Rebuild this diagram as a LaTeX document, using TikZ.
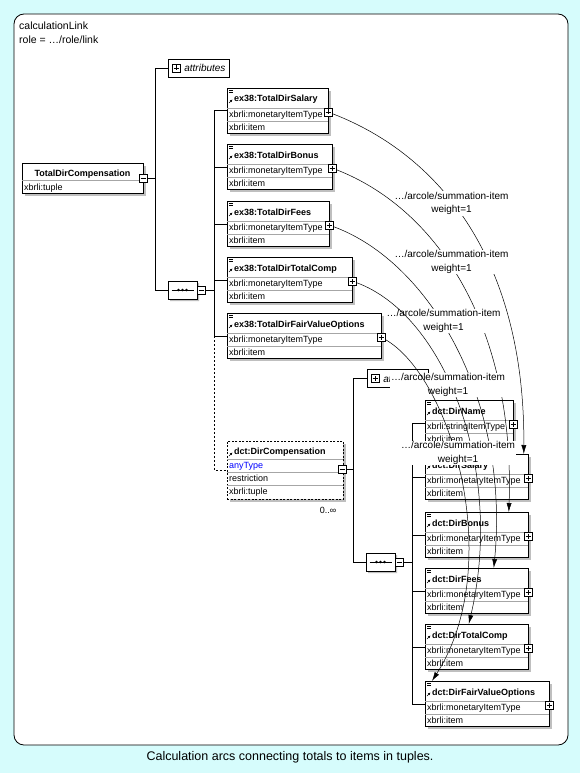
\documentclass[tikz,border=0pt]{standalone}
\usepackage{fontspec}
\setmainfont{Liberation Sans}
\usetikzlibrary{arrows.meta,shapes.misc}

\definecolor{bgcyan}{RGB}{214,252,252}

\tikzset{
  elbox/.style={draw, fill=white, line width=0.8pt, minimum height=45pt, inner sep=0pt},
  boxshadow/.style={fill=gray!50},
  rowline/.style={draw=gray!70, line width=0.5pt},
  eltitle/.style={anchor=base west, inner sep=0pt, font=\fontsize{9}{10}\selectfont\bfseries},
  eltext/.style={anchor=base west, inner sep=0pt, font=\fontsize{9}{10}\selectfont},
  plusbox/.style={draw, fill=white, line width=0.6pt, minimum size=8pt, inner sep=0pt,
    path picture={\draw[line width=0.6pt]
      ([xshift=1.5pt]path picture bounding box.west) -- ([xshift=-1.5pt]path picture bounding box.east)
      ([yshift=-1.5pt]path picture bounding box.north) -- ([yshift=1.5pt]path picture bounding box.south);}},
  minusbox/.style={draw, fill=white, line width=0.6pt, minimum size=8pt, inner sep=0pt,
    path picture={\draw[line width=0.6pt]
      ([xshift=1.5pt]path picture bounding box.west) -- ([xshift=-1.5pt]path picture bounding box.east);}},
  attrbox/.style={draw, fill=white, line width=0.8pt, minimum height=18pt, minimum width=61pt,
    inner sep=2pt, anchor=west, font=\fontsize{10}{11}\selectfont\itshape},
  seqbox/.style={chamfered rectangle, chamfered rectangle xsep=5pt, draw, fill=white,
    line width=0.8pt, minimum width=29pt, minimum height=18pt, inner sep=0pt},
  link/.style={line width=0.8pt},
  optlink/.style={line width=0.8pt, dash pattern=on 2pt off 2pt},
  calcarc/.style={line width=0.5pt, -{Latex[length=9pt,width=5pt]}},
  arclabel/.style={fill=white, align=center, inner sep=1pt, font=\fontsize{10}{13.5}\selectfont}
}

% element box: name, left, top, width, title, type, base
\newcommand{\elem}[7]{%
  \fill[boxshadow] (#2+3,#3+3) rectangle ++(#4,45);
  \node[elbox, minimum width=#4pt, anchor=north west] (#1) at (#2,#3) {};
  \draw[rowline] (#2,#3+20) -- ++(#4,0) (#2,#3+33) -- ++(#4,0);
  \draw[line width=0.4pt] (#2+2,#3+2) -- ++(4,0) (#2+2,#3+4) -- ++(4,0);
  \draw[line width=0.6pt, -{Latex[length=2.5pt,width=2.5pt]}] (#2+2,#3+15) -- ++(3.5,-3.5);
  \node[eltitle] at (#2+7,#3+14) {#5};
  \node[eltext] at (#2+2,#3+29.5) {#6};
  \node[eltext] at (#2+2,#3+42.5) {#7};
  \node[plusbox] (#1p) at (#2+#4,#3+24) {};
}

% sequence compositor: name, centre x, centre y
\newcommand{\seqnode}[3]{%
  \node[seqbox, draw=none, fill=gray!50] at (#2+2,#3+2) {};
  \node[seqbox] (#1) at (#2,#3) {};
  \draw[line width=0.6pt] (#2-11,#3) -- (#2+11,#3);
  \fill (#2-4,#3) circle (1.4pt) (#2,#3) circle (1.4pt) (#2+4,#3) circle (1.4pt);
  \node[minusbox] (#1m) at (#2+18.5,#3) {};
}

\begin{document}
\begin{tikzpicture}[x=1pt, y=-1pt]
  \useasboundingbox (0,0) rectangle (580,773);
  \fill[bgcyan] (0,0) rectangle (580,773);
  \draw[fill=white, line width=0.8pt, rounded corners=10pt] (14,14) rectangle (568,745);

  \node[anchor=base west, inner sep=0pt, font=\fontsize{10.5}{12}\selectfont] (linkname) at (19,29.5) {calculationLink};
  \node[anchor=base west, inner sep=0pt, font=\fontsize{10.5}{12}\selectfont] (linkrole) at (19,44) {role = …/role/link};

  % tuple on the left
  \fill[boxshadow] (25,166) rectangle ++(121,30);
  \node[elbox, minimum width=121pt, minimum height=30pt, anchor=north west] (tdc) at (22,163) {};
  \draw[rowline] (22,180) -- ++(121,0);
  \node[eltitle, anchor=base] at (82.5,176) {TotalDirCompensation};
  \node[eltext] at (24,190) {xbrli:tuple};
  \node[minusbox] (tdcm) at (143,178.5) {};

  \node[attrbox] (attr1) at (168,68) {\hspace{12pt}attributes};
  \node[plusbox] at ([xshift=8pt]attr1.west) {};
  \seqnode{seq1}{182.5}{290}

  \elem{tsal}{227}{88}{101}{ex38:TotalDirSalary}{xbrli:monetaryItemType}{xbrli:item}
  \elem{tbon}{227}{144}{105}{ex38:TotalDirBonus}{xbrli:monetaryItemType}{xbrli:item}
  \elem{tfee}{227}{201}{102}{ex38:TotalDirFees}{xbrli:monetaryItemType}{xbrli:item}
  \elem{ttot}{227}{257}{125}{ex38:TotalDirTotalComp}{xbrli:monetaryItemType}{xbrli:item}
  \elem{tfvo}{227}{313}{154}{ex38:TotalDirFairValueOptions}{xbrli:monetaryItemType}{xbrli:item}

  % nested tuple
  \fill[boxshadow] (230,444) rectangle ++(116,58);
  \node[elbox, dash pattern=on 2pt off 1.5pt, minimum width=116pt, minimum height=58pt, anchor=north west] (dcomp) at (227,441) {};
  \draw[rowline] (227,459) -- ++(116,0) (227,472) -- ++(116,0) (227,485) -- ++(116,0);
  \draw[line width=0.6pt, -{Latex[length=2.5pt,width=2.5pt]}] (229,456) -- ++(3.5,-3.5);
  \node[eltitle] at (234,454) {dct:DirCompensation};
  \node[eltext, text=blue] at (229,468.5) {anyType};
  \node[eltext] at (229,481.5) {restriction};
  \node[eltext] at (229,494.5) {xbrli:tuple};
  \node[minusbox] (dcompm) at (342,469.5) {};
  \node[font=\fontsize{9}{10}\selectfont, inner sep=0pt] (card) at (328,510) {0..∞};

  \node[attrbox] (attr2) at (367,378.5) {\hspace{12pt}attributes};
  \node[plusbox] at ([xshift=8pt]attr2.west) {};
  \seqnode{seq2}{380.5}{562}

  \elem{dnam}{425}{400}{88}{dct:DirName}{xbrli:stringItemType}{xbrli:item}
  \elem{dsal}{425}{454}{103}{dct:DirSalary}{xbrli:monetaryItemType}{xbrli:item}
  \elem{dbon}{425}{512}{103}{dct:DirBonus}{xbrli:monetaryItemType}{xbrli:item}
  \elem{dfee}{425}{568}{103}{dct:DirFees}{xbrli:monetaryItemType}{xbrli:item}
  \elem{dtot}{425}{624}{103}{dct:DirTotalComp}{xbrli:monetaryItemType}{xbrli:item}
  \elem{dfvo}{425}{681}{124}{dct:DirFairValueOptions}{xbrli:monetaryItemType}{xbrli:item}

  % tree lines
  \draw[link] (tdcm.east) -- ++(8,0) coordinate (b1) |- (attr1.west);
  \draw[link] (b1) |- (seq1.west);
  \draw[link] (seq1m.east) -- ++(9,0) coordinate (b2);
  \foreach \el in {tsal,tbon,tfee,ttot,tfvo}
    \draw[link] (b2) |- (\el.west);
  \draw[optlink] (tfvo.west -| b2) |- (dcomp.west);
  \draw[link] (dcompm.east) -- ++(7,0) coordinate (b3) |- (attr2.west);
  \draw[link] (b3) |- (seq2.west);
  \draw[link] (seq2m.east) -- ++(9,0) coordinate (b4);
  \foreach \el in {dnam,dsal,dbon,dfee,dtot,dfvo}
    \draw[link] (b4) |- (\el.west);

  % calculation arcs
  \draw[calcarc] (tsalp) .. controls (440,155) and (525,260) .. ([xshift=-5pt]dsal.north east);
  \node[arclabel] (lab1) at (451.5,203.5) {…/arcole/summation-item\\weight=1};
  \draw[calcarc] (tbonp) .. controls (440,210) and (515,330) .. ([xshift=-20pt]dbon.north east);
  \node[arclabel] (lab2) at (451.5,262) {…/arcole/summation-item\\weight=1};
  \draw[calcarc] (tfeep) .. controls (430,262) and (510,400) .. ([xshift=-35pt]dfee.north east);
  \node[arclabel] (lab3) at (443.5,321) {…/arcole/summation-item\\weight=1};
  \draw[calcarc] (ttotp) .. controls (445,315) and (505,470) .. ([xshift=-60pt]dtot.north east);
  \node[arclabel] (lab4) at (448,385) {…/arcole/summation-item\\weight=1};
  \draw[calcarc] (tfvop) .. controls (452,378) and (506,565) .. ([xshift=7pt]dfvo.north west);
  \node[arclabel] (lab5) at (458,453) {…/arcole/summation-item\\weight=1};

  \node[font=\fontsize{12.5}{14}\selectfont] (caption) at (290,757) {Calculation arcs connecting totals to items in tuples.};
\end{tikzpicture}
\end{document}
